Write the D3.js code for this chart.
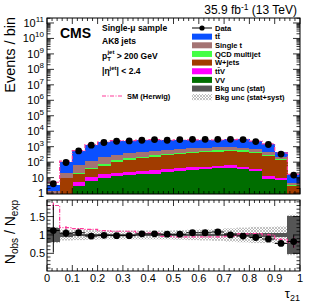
<!DOCTYPE html>
<html lang="en">
<head>
<meta charset="UTF-8">
<script src="https://cdn.jsdelivr.net/npm/d3@7"></script>
<title>tau21 single-mu</title>
<style>
  body { margin: 0; background: #fff; }
  svg { display: block; font-family: "Liberation Sans", Arial, sans-serif; }
  .lab { font-size: 11px; fill: #000; }
  .leg { font-size: 7.5px; font-weight: bold; fill: #000; }
</style>
</head>
<body>
<svg id="chart" width="316" height="303"></svg>
<script>
// bins in tau21
const binLo = [0, 0.05, 0.1, 0.15, 0.2, 0.25, 0.3, 0.35, 0.4, 0.45, 0.5, 0.55, 0.6, 0.65, 0.7, 0.75, 0.8, 0.85, 0.9, 0.95];
const binHi = [0.05, 0.1, 0.15, 0.2, 0.25, 0.3, 0.35, 0.4, 0.45, 0.5, 0.55, 0.6, 0.65, 0.7, 0.75, 0.8, 0.85, 0.9, 0.95, 1];

// stacked backgrounds (events / bin), bottom to top
const vv        = [0, 0.2, 2.8, 6.2, 10, 12, 14, 16, 18, 22, 26, 30, 35, 40, 45, 38, 25, 8, 7, 0.3];
const ttv       = [0.1, 0.1, 2.2, 4.8, 8, 9, 10, 11, 12, 16, 16, 17, 17, 18, 17, 14, 9, 4, 2, 0.1];
const wjets     = [0.4, 8.7, 13, 23, 42, 79, 116, 153, 190, 242, 288, 333, 378, 422, 458, 428, 346, 238, 121, 2.6];
const qcd       = [0.05, 1, 2, 5, 20, 30, 40, 50, 60, 60, 70, 90, 110, 120, 120, 100, 60, 50, 30, 0.5];
const singleTop = [0.75, 9, 44, 76, 140, 170, 190, 220, 240, 260, 300, 310, 310, 320, 320, 300, 240, 130, 50, 1];
const ttbar     = [2.2, 86, 436, 1165, 1660, 2000, 2030, 2070, 2280, 1950, 2140, 2050, 1980, 1860, 2040, 2110, 1630, 1120, 220, 13.2];

const dataCounts = [4, 95, 530, 1250, 1860, 2250, 2350, 2600, 2900, 2600, 2900, 3000, 3000, 3000, 3000, 2900, 2150, 1380, 330, 14.5];
const herwig     = [5, 115, 560, 1350, 2000, 2450, 2500, 2650, 2900, 2600, 2800, 2750, 2750, 2700, 2900, 2950, 2300, 1500, 400, 16];

// ratio panel
const ratio       = [1.12, 1.05, 1.06, 0.97, 0.99, 0.98, 0.98, 1.03, 1.03, 1.02, 1.02, 1.06, 1.06, 1.08, 1.0, 0.97, 0.93, 0.89, 0.77, 0.82];
const ratioErrLo  = [0.60, 0.11, 0.05, 0.03, 0.02, 0.02, 0.02, 0.02, 0.02, 0.02, 0.02, 0.02, 0.02, 0.02, 0.02, 0.02, 0.02, 0.03, 0.05, 0.17];
const ratioErrHi  = [0.70, 0.11, 0.05, 0.03, 0.02, 0.02, 0.02, 0.02, 0.02, 0.02, 0.02, 0.02, 0.02, 0.02, 0.02, 0.02, 0.02, 0.03, 0.05, 0.17];
const statUnc     = [0.18, 0.06, 0.03, 0.025, 0.025, 0.025, 0.025, 0.025, 0.025, 0.025, 0.03, 0.03, 0.03, 0.035, 0.04, 0.04, 0.045, 0.05, 0.06, 0.52];
const systUnc     = [0.22, 0.15, 0.14, 0.13, 0.12, 0.12, 0.12, 0.12, 0.12, 0.12, 0.13, 0.14, 0.15, 0.16, 0.18, 0.2, 0.22, 0.22, 0.23, 0.55];
const herwigRatio = [1.8, 1.2, 1.17, 1.15, 1.12, 1.1, 1.1, 1.05, 1.05, 0.96, 0.95, 0.95, 0.95, 0.95, 0.97, 1.03, 1.04, 1.0, 0.88, 0.8];
const herwigErr   = [0.12, 0.04, 0.02, 0.01, 0.01, 0.01, 0.01, 0.01, 0.01, 0.01, 0.01, 0.01, 0.01, 0.01, 0.01, 0.01, 0.02, 0.03, 0.06, 0.15];

const xTickVals = [0, 0.1, 0.2, 0.3, 0.4, 0.5, 0.6, 0.7, 0.8, 0.9, 1];
const xTickLabels = ["0", "0.1", "0.2", "0.3", "0.4", "0.5", "0.6", "0.7", "0.8", "0.9", "1"];
const ratioTickVals = [0.5, 1, 1.5];
const ratioTickLabels = ["0.5", "1", "1.5"];
const decades = [0, 1, 2, 3, 4, 5, 6, 7, 8, 9, 10, 11];

const keys = ["VV", "ttV", "W", "QCD", "st", "tt"];
const colors = { VV: "#006e00", ttV: "#ff00ff", W: "#a13c00", QCD: "#43ff43", st: "#a47373", tt: "#0a50ff" };
const herwigColor = "#ff3b9a";

const svg = d3.select("#chart");
const x = d3.scaleLinear().domain([0, 1]).range([47, 300]);
const yTop = d3.scaleLog().domain([0.87, 2.1e11]).range([194, 18]);
const yRat = d3.scaleLinear().domain([0.02, 1.95]).range([271, 200]);
const yMin = yTop.domain()[0];

const defs = svg.append("defs");
defs.append("clipPath").attr("id", "clipTop").append("rect")
    .attr("x", 47).attr("y", 18).attr("width", 253).attr("height", 176);
defs.append("clipPath").attr("id", "clipRat").append("rect")
    .attr("x", 47).attr("y", 200).attr("width", 253).attr("height", 71);
const pat = defs.append("pattern").attr("id", "hatch").attr("patternUnits", "userSpaceOnUse")
    .attr("width", 3).attr("height", 3);
pat.append("rect").attr("width", 3).attr("height", 3).attr("fill", "#fff");
pat.append("path").attr("d", "M0,0L3,3M3,0L0,3").attr("stroke", "#9a9a9a").attr("stroke-width", 0.6);

// ---------- upper panel ----------
const gTop = svg.append("g").attr("clip-path", "url(#clipTop)");
const rows = binLo.map((lo, i) => ({
    i, VV: vv[i], ttV: ttv[i], W: wjets[i], QCD: qcd[i], st: singleTop[i], tt: ttbar[i]
}));
const layers = d3.stack().keys(keys)(rows);
layers.forEach(layer => {
    gTop.selectAll(null).data(layer).enter().append("rect")
        .attr("x", d => x(binLo[d.data.i]))
        .attr("width", d => x(binHi[d.data.i]) - x(binLo[d.data.i]) + 0.3)
        .attr("y", d => yTop(Math.max(d[1], yMin)))
        .attr("height", d => yTop(Math.max(d[0], yMin)) - yTop(Math.max(d[1], yMin)))
        .attr("fill", colors[layer.key])
        .attr("shape-rendering", "crispEdges");
});

function stepPoints(vals, fy) {
    const pts = [];
    vals.forEach((v, i) => { pts.push([x(binLo[i]), fy(v)]); pts.push([x(binHi[i]), fy(v)]); });
    return pts;
}
gTop.append("path").attr("d", d3.line()(stepPoints(herwig, yTop)))
    .attr("fill", "none").attr("stroke", herwigColor).attr("stroke-width", 1.2)
    .attr("stroke-dasharray", "4,1.5,1,1.5");

gTop.selectAll(".dot").data(dataCounts).enter().append("circle")
    .attr("cx", (d, i) => x((binLo[i] + binHi[i]) / 2))
    .attr("cy", d => yTop(d)).attr("r", 3.4).attr("fill", "#000");

// ---------- ratio panel ----------
const gRat = svg.append("g").attr("clip-path", "url(#clipRat)");
const bw = i => x(binHi[i]) - x(binLo[i]);
gRat.selectAll(".syst").data(systUnc).enter().append("rect")
    .attr("x", (d, i) => x(binLo[i])).attr("width", (d, i) => bw(i) + 0.3)
    .attr("y", d => yRat(1 + d)).attr("height", d => yRat(1 - d) - yRat(1 + d))
    .attr("fill", "url(#hatch)");
gRat.selectAll(".stat").data(statUnc).enter().append("rect")
    .attr("x", (d, i) => x(binLo[i])).attr("width", (d, i) => bw(i) + 0.3)
    .attr("y", d => yRat(1 + d)).attr("height", d => yRat(1 - d) - yRat(1 + d))
    .attr("fill", "#555").attr("shape-rendering", "crispEdges");

gRat.append("path").attr("d", d3.line()(stepPoints(herwigRatio, yRat)))
    .attr("fill", "none").attr("stroke", herwigColor).attr("stroke-width", 1.2)
    .attr("stroke-dasharray", "4,1.5,1,1.5");
gRat.selectAll(".herr").data(herwigRatio).enter().append("line")
    .attr("x1", (d, i) => x((binLo[i] + binHi[i]) / 2)).attr("x2", (d, i) => x((binLo[i] + binHi[i]) / 2))
    .attr("y1", (d, i) => yRat(d - herwigErr[i])).attr("y2", (d, i) => yRat(d + herwigErr[i]))
    .attr("stroke", herwigColor).attr("stroke-width", 1.2).attr("stroke-dasharray", "3,1.5");

gRat.selectAll(".xerr").data(ratio).enter().append("line")
    .attr("x1", (d, i) => x(binLo[i])).attr("x2", (d, i) => x(binHi[i]))
    .attr("y1", d => yRat(d)).attr("y2", d => yRat(d))
    .attr("stroke", "#000").attr("stroke-width", 1);
gRat.selectAll(".yerr").data(ratio).enter().append("line")
    .attr("x1", (d, i) => x((binLo[i] + binHi[i]) / 2)).attr("x2", (d, i) => x((binLo[i] + binHi[i]) / 2))
    .attr("y1", (d, i) => yRat(d - ratioErrLo[i])).attr("y2", (d, i) => yRat(d + ratioErrHi[i]))
    .attr("stroke", "#000").attr("stroke-width", 1);
gRat.selectAll(".rdot").data(ratio).enter().append("circle")
    .attr("cx", (d, i) => x((binLo[i] + binHi[i]) / 2))
    .attr("cy", d => yRat(d)).attr("r", 3.4).attr("fill", "#000");

// ---------- frames and ticks ----------
function frame(y0, y1) {
    svg.append("rect").attr("x", 47).attr("y", y0).attr("width", 253).attr("height", y1 - y0)
        .attr("fill", "none").attr("stroke", "#000").attr("stroke-width", 1);
}
function tick(x1, y1, x2, y2) {
    svg.append("line").attr("x1", x1).attr("y1", y1).attr("x2", x2).attr("y2", y2)
        .attr("stroke", "#000").attr("stroke-width", 0.8);
}
frame(18, 194);
frame(200, 271);

const xMinor = x.ticks(50);
[[194, -1], [18, 1], [271, -1], [200, 1]].forEach(([yy, dir]) => {
    xMinor.forEach(v => {
        const major = xTickVals.some(t => Math.abs(t - v) < 1e-6);
        const len = major ? 6 : 3;
        tick(x(v), yy, x(v), yy + dir * len);
    });
});

decades.forEach(k => {
    const base = Math.pow(10, k);
    [1, 2, 3, 4, 5, 6, 7, 8, 9].forEach(m => {
        const v = base * m;
        if (v < yMin || v > yTop.domain()[1]) return;
        const yy = yTop(v);
        const len = m === 1 ? 7 : 3.5;
        tick(47, yy, 47 + len, yy);
        tick(300, yy, 300 - len, yy);
    });
});

yRat.ticks(20).forEach(v => {
    const major = ratioTickVals.some(t => Math.abs(t - v) < 1e-6);
    const len = major ? 7 : 3.5;
    tick(47, yRat(v), 47 + len, yRat(v));
    tick(300, yRat(v), 300 - len, yRat(v));
});

// ---------- tick labels ----------
decades.forEach(k => {
    const t = svg.append("text").attr("class", "lab").attr("x", 44).attr("y", yTop(Math.pow(10, k)) + 4)
        .attr("text-anchor", "end");
    if (k === 0) t.text("1");
    else if (k === 1) t.text("10");
    else {
        t.append("tspan").text("10");
        t.append("tspan").attr("dy", -5).style("font-size", "8px").text(k);
    }
});
ratioTickVals.forEach((v, i) => {
    svg.append("text").attr("class", "lab").attr("x", 45).attr("y", yRat(v) + 4)
        .attr("text-anchor", "end").text(ratioTickLabels[i]);
});
xTickVals.forEach((v, i) => {
    svg.append("text").attr("class", "lab").attr("x", x(v)).attr("y", 282)
        .attr("text-anchor", "middle").text(xTickLabels[i]);
});

// axis titles
svg.append("text").attr("transform", "translate(15,17) rotate(-90)").attr("text-anchor", "end")
    .style("font-size", "14.5px").text("Events / bin");
const rt = svg.append("text").attr("transform", "translate(15,200) rotate(-90)").attr("text-anchor", "end")
    .style("font-size", "14px");
rt.append("tspan").text("N");
rt.append("tspan").attr("dy", 3).style("font-size", "10px").text("obs");
rt.append("tspan").attr("dy", -3).text(" / N");
rt.append("tspan").attr("dy", 3).style("font-size", "10px").text("exp");
const xt = svg.append("text").attr("x", 300).attr("y", 298).attr("text-anchor", "end").style("font-size", "13px");
xt.append("tspan").text("τ");
xt.append("tspan").attr("dy", 3).style("font-size", "9px").text("21");

// header
const lumi = svg.append("text").attr("x", 297).attr("y", 14).attr("text-anchor", "end").style("font-size", "12px");
lumi.append("tspan").text("35.9 fb");
lumi.append("tspan").attr("dy", -4).style("font-size", "8.5px").text("-1");
lumi.append("tspan").attr("dy", 4).text(" (13 TeV)");

svg.append("text").attr("x", 60).attr("y", 38).style("font-size", "14px").style("font-weight", "bold").text("CMS");

const infoX = 102;
svg.append("text").attr("class", "leg").attr("x", infoX).attr("y", 31).style("font-size", "8.5px").text("Single-μ sample");
svg.append("text").attr("class", "leg").attr("x", infoX).attr("y", 44).style("font-size", "8.5px").text("AK8 jets");
const pt = svg.append("text").attr("class", "leg").attr("x", infoX).attr("y", 59).style("font-size", "8.5px");
pt.append("tspan").text("p");
pt.append("tspan").attr("dy", 2).style("font-size", "6px").text("T");
pt.append("tspan").attr("dy", -7).attr("dx", -3.5).style("font-size", "6px").text("jet");
pt.append("tspan").attr("dy", 5).text(" > 200 GeV");
const eta = svg.append("text").attr("class", "leg").attr("x", infoX).attr("y", 74).style("font-size", "8.5px");
eta.append("tspan").text("|η");
eta.append("tspan").attr("dy", -4).style("font-size", "6px").text("jet");
eta.append("tspan").attr("dy", 4).text("| < 2.4");

svg.append("line").attr("x1", 102).attr("x2", 122).attr("y1", 96).attr("y2", 96)
    .attr("stroke", herwigColor).attr("stroke-width", 1.2).attr("stroke-dasharray", "4,1.5,1,1.5");
svg.append("text").attr("class", "leg").attr("x", 127).attr("y", 99).text("SM (Herwig)");

// legend
const legendNames = ["Data", "tt̄", "Single t", "QCD multijet", "W+jets", "tt̄V", "VV", "Bkg unc (stat)", "Bkg unc (stat+syst)"];
const legendKeys = ["data", "tt", "st", "QCD", "W", "ttV", "VV", "stat", "syst"];
const legY0 = 28, legDy = 8.65;
legendKeys.forEach((k, i) => {
    const yy = legY0 + i * legDy;
    if (k === "data") {
        svg.append("line").attr("x1", 192).attr("x2", 212).attr("y1", yy).attr("y2", yy).attr("stroke", "#000");
        svg.append("circle").attr("cx", 202).attr("cy", yy).attr("r", 2.6).attr("fill", "#000");
    } else {
        const fill = k === "stat" ? "#555" : k === "syst" ? "url(#hatch)" : colors[k];
        svg.append("rect").attr("x", 192).attr("y", yy - 3).attr("width", 20).attr("height", 6).attr("fill", fill);
    }
    svg.append("text").attr("class", "leg").attr("x", 215).attr("y", yy + 2.8).text(legendNames[i]);
});
</script>
</body>
</html>
